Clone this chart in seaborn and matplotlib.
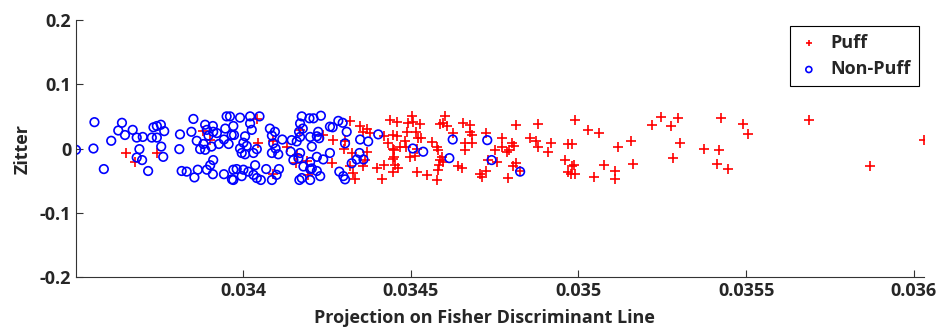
import numpy as np
import pandas as pd
import matplotlib
matplotlib.use("Agg")
import matplotlib.pyplot as plt
import seaborn as sns

# projection values and jitter
puff_x = [0.033651, 0.033678, 0.033743, 0.03388, 0.0339, 0.034041, 0.034046, 0.03409,
          0.034132, 0.03416, 0.034158, 0.03419, 0.03417, 0.03409, 0.034193, 0.034319,
          0.034349, 0.03437, 0.034359, 0.034379, 0.034267, 0.034239, 0.034304, 0.034302,
          0.034326, 0.034369, 0.034364, 0.034264, 0.034319, 0.034359, 0.034399, 0.03442,
          0.034329, 0.034334, 0.034413, 0.034438, 0.03442, 0.034448, 0.034433, 0.034446,
          0.034448, 0.034446, 0.034503, 0.034458, 0.034493, 0.034508, 0.034528, 0.034488,
          0.034516, 0.034458, 0.034523, 0.034531, 0.034483, 0.034562, 0.034468, 0.034486,
          0.034577, 0.034582, 0.03445, 0.03452, 0.034451, 0.034498, 0.034513, 0.034453,
          0.034463, 0.034518, 0.034548, 0.034577, 0.034582, 0.034585, 0.034587, 0.034597,
          0.034592, 0.034602, 0.034587, 0.034607, 0.034595, 0.034657, 0.034677, 0.034677,
          0.034682, 0.034682, 0.034662, 0.034662, 0.034642, 0.034652, 0.034627, 0.034724,
          0.034771, 0.034751, 0.034771, 0.034788, 0.034794, 0.034801, 0.034808, 0.034814,
          0.03488, 0.034855, 0.034873, 0.03488, 0.034918, 0.03491, 0.034968, 0.03496,
          0.034731, 0.034756, 0.034804, 0.034814, 0.034724, 0.034706, 0.034711, 0.034789,
          0.034826, 0.03497, 0.03499, 0.035029, 0.035061, 0.03498, 0.035117, 0.035156,
          0.034987, 0.03498, 0.034978, 0.03499, 0.035046, 0.035076, 0.03511, 0.03511,
          0.035163, 0.03522, 0.035246, 0.035275, 0.035296, 0.035303, 0.035283, 0.035425,
          0.035374, 0.035419, 0.035412, 0.035445, 0.035489, 0.035504, 0.035688, 0.035869,
          0.03603]
puff_y = [-0.007, -0.021, -0.007, 0.027, 0.013, 0.046, 0.009, 0.012,
          0.003, -0.010, -0.023, -0.019, 0.029, -0.040, -0.041, 0.043,
          0.035, 0.030, 0.026, 0.024, 0.014, 0.021, 0.011, -0.001,
          -0.007, -0.005, -0.018, -0.023, -0.027, -0.027, -0.031, -0.026,
          -0.038, -0.048, -0.048, 0.044, 0.019, 0.021, 0.008, -0.001,
          -0.017, -0.036, 0.051, 0.042, 0.039, 0.042, 0.038, 0.026,
          0.026, 0.019, 0.016, 0.016, 0.012, 0.010, 0.003, 0.003,
          0.002, -0.002, -0.002, -0.001, -0.013, -0.014, -0.012, -0.026,
          -0.031, -0.037, -0.041, -0.049, -0.033, -0.026, -0.018, -0.021,
          -0.013, 0.051, 0.038, 0.035, 0.040, 0.040, 0.037, 0.026,
          0.021, 0.008, 0.008, -0.002, -0.028, -0.031, 0.024, 0.024,
          0.016, -0.002, 0.003, -0.005, -0.002, 0.009, 0.004, 0.037,
          0.038, 0.017, 0.012, 0.003, 0.009, -0.006, 0.007, -0.018,
          -0.018, -0.021, -0.027, -0.022, -0.035, -0.040, -0.045, -0.046,
          -0.035, -0.036, 0.045, 0.029, 0.024, 0.007, 0.003, 0.011,
          -0.026, -0.028, -0.039, -0.040, -0.045, -0.026, -0.035, -0.048,
          -0.024, 0.037, 0.049, 0.035, 0.047, 0.008, -0.015, 0.048,
          0.000, -0.002, -0.024, -0.032, 0.038, 0.022, 0.044, -0.027,
          0.014]

nonpuff_x = [0.033502, 0.033557, 0.033554, 0.033639, 0.033628, 0.033648, 0.033671, 0.033683,
             0.033701, 0.033728, 0.033733, 0.033607, 0.033691, 0.033683, 0.033699, 0.033585,
             0.033717, 0.033743, 0.033755, 0.033765, 0.033743, 0.033756, 0.033762, 0.033852,
             0.033846, 0.033812, 0.03381, 0.033887, 0.03391, 0.033892, 0.033911, 0.033922,
             0.033947, 0.033951, 0.033961, 0.033966, 0.033897, 0.033862, 0.033882, 0.033872,
             0.033887, 0.033906, 0.033928, 0.033943, 0.033957, 0.033911, 0.033902, 0.033892,
             0.03391, 0.033865, 0.033855, 0.033817, 0.033832, 0.033943, 0.033967, 0.033971,
             0.033991, 0.034021, 0.034049, 0.034021, 0.034026, 0.033971, 0.033973, 0.034006,
             0.034001, 0.033991, 0.034011, 0.034041, 0.034031, 0.033996, 0.034006, 0.033981,
             0.034001, 0.033996, 0.034016, 0.034036, 0.034031, 0.034041, 0.034053, 0.034069,
             0.033971, 0.034086, 0.0341, 0.034107, 0.034095, 0.03408, 0.034086, 0.03409,
             0.034097, 0.034105, 0.034086, 0.034117, 0.034145, 0.03416, 0.03417, 0.03417,
             0.034175, 0.034198, 0.034167, 0.034178, 0.0342, 0.034205, 0.03417, 0.034165,
             0.03418, 0.0342, 0.034175, 0.034168, 0.0342, 0.034142, 0.03415, 0.03421,
             0.034232, 0.034224, 0.03422, 0.034227, 0.034259, 0.034267, 0.034284, 0.034297,
             0.034309, 0.034304, 0.034349, 0.034373, 0.034403, 0.034259, 0.03422, 0.0342,
             0.034239, 0.034347, 0.034339, 0.034359, 0.034324, 0.034205, 0.03422, 0.03423,
             0.034287, 0.034299, 0.034304, 0.034506, 0.034537, 0.034625, 0.034615, 0.034728,
             0.034741, 0.034826]
nonpuff_y = [-0.002, 0.041, 0.000, 0.040, 0.028, 0.021, 0.029, 0.017,
             0.018, 0.017, 0.033, 0.012, -0.001, -0.014, -0.018, -0.032,
             -0.035, 0.035, 0.037, 0.027, 0.017, 0.003, -0.013, 0.046,
             0.026, 0.022, -0.001, 0.037, 0.035, 0.029, 0.026, 0.024,
             0.031, 0.050, 0.050, 0.021, 0.020, 0.012, 0.007, -0.001,
             -0.002, 0.003, 0.007, 0.014, 0.007, -0.018, -0.026, -0.033,
             -0.040, -0.033, -0.045, -0.035, -0.036, -0.040, -0.048, -0.033,
             0.048, 0.050, 0.050, 0.039, 0.029, 0.035, 0.021, 0.019,
             0.009, 0.000, 0.004, -0.001, -0.007, -0.007, -0.009, -0.032,
             -0.033, -0.043, -0.036, -0.026, -0.041, -0.046, -0.049, -0.032,
             -0.049, -0.049, -0.041, -0.032, 0.026, 0.031, 0.020, 0.008,
             0.000, -0.009, -0.007, 0.014, 0.013, 0.011, 0.018, 0.039,
             0.050, 0.047, 0.026, 0.031, 0.018, 0.003, -0.007, -0.015,
             -0.028, -0.032, -0.046, -0.049, -0.049, -0.005, -0.018, 0.047,
             0.051, 0.026, 0.019, 0.016, 0.034, 0.033, 0.043, 0.040,
             0.026, 0.008, 0.014, 0.011, 0.022, -0.007, -0.013, -0.021,
             -0.017, -0.007, -0.017, -0.017, -0.023, -0.031, -0.035, -0.043,
             -0.036, -0.043, -0.048, 0.000, -0.005, 0.014, -0.015, 0.013,
             -0.018, -0.036]

x_ticks = [0.034, 0.0345, 0.035, 0.0355, 0.036]
x_tick_labels = ["0.034", "0.0345", "0.035", "0.0355", "0.036"]
y_ticks = [-0.2, -0.1, 0, 0.1, 0.2]
y_tick_labels = ["-0.2", "-0.1", "0", "0.1", "0.2"]

puff = pd.DataFrame({"proj": puff_x, "zitter": puff_y})
nonpuff = pd.DataFrame({"proj": nonpuff_x, "zitter": nonpuff_y})

sns.set_style("white")
plt.rcParams["font.family"] = ["Open Sans", "DejaVu Sans"]
plt.rcParams["font.weight"] = "bold"

fig = plt.figure(figsize=(9.43, 3.27), dpi=100)
ax = fig.add_axes([76 / 943, 1 - 277 / 327, 848 / 943, 257 / 327])

sns.scatterplot(data=puff, x="proj", y="zitter", marker="+", color="red",
                s=45, linewidth=1.2, label="Puff", ax=ax)
sns.scatterplot(data=nonpuff, x="proj", y="zitter", marker="o", facecolor="none",
                edgecolor="blue", s=38, linewidth=1.2, label="Non-Puff", ax=ax)

ax.set_xlim(min(puff_x + nonpuff_x), max(puff_x + nonpuff_x))
ax.set_ylim(-0.2, 0.2)
ax.set_xticks(x_ticks)
ax.set_xticklabels(x_tick_labels)
ax.set_yticks(y_ticks)
ax.set_yticklabels(y_tick_labels)
ax.tick_params(direction="in", length=5, width=0.8, labelsize=13,
               bottom=True, left=True, top=False, right=False, color="#333333")
for lbl in ax.get_xticklabels() + ax.get_yticklabels():
    lbl.set_fontweight("bold")

sns.despine(ax=ax)
for side in ["left", "bottom"]:
    ax.spines[side].set_color("#333333")
    ax.spines[side].set_linewidth(0.8)

ax.set_xlabel("Projection on Fisher Discriminant Line", fontsize=13, fontweight="bold")
ax.xaxis.set_label_coords((484 - 76) / 848, -0.125)
ax.set_ylabel("Zitter", fontsize=13, fontweight="bold", labelpad=6)

leg = ax.legend(loc="upper right", bbox_to_anchor=(919 / 943, 1 - 26 / 327),
                bbox_transform=fig.transFigure, borderaxespad=0, fancybox=False,
                framealpha=1, edgecolor="black", markerscale=0.7,
                prop={"weight": "bold", "size": 13}, handlelength=1.2,
                handletextpad=0.6, borderpad=0.45, labelspacing=0.45)
leg.get_frame().set_linewidth(0.8)

fig.savefig("out.png", dpi=100)
